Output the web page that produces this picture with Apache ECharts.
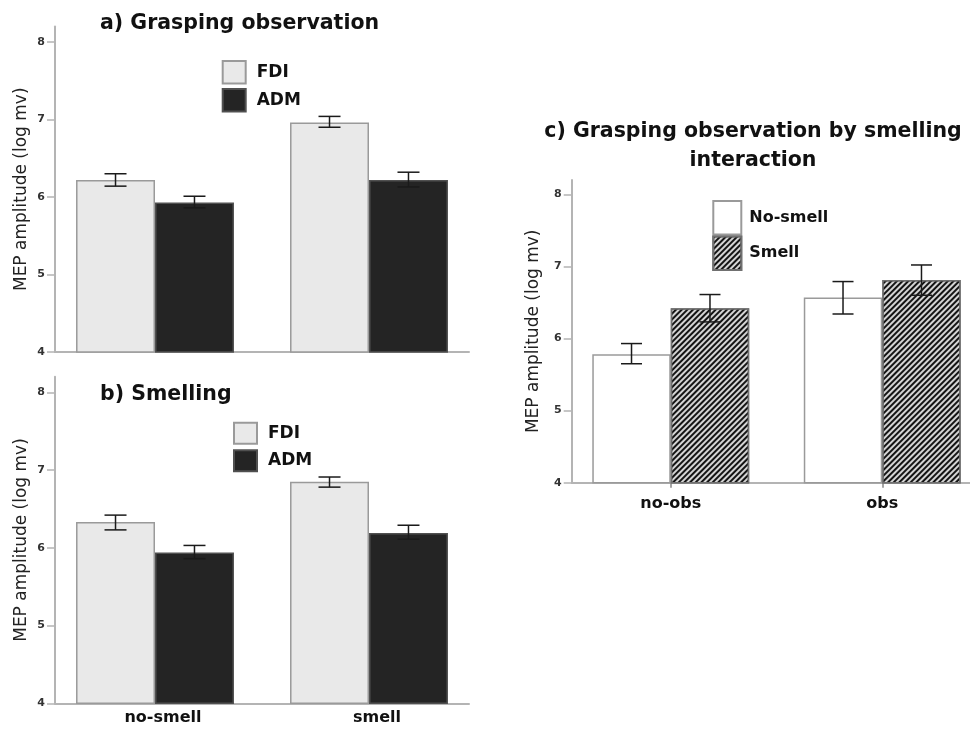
<!DOCTYPE html>
<html>
<head>
<meta charset="utf-8">
<script src="https://cdn.jsdelivr.net/npm/echarts@6/dist/echarts.min.js"></script>
<style>html,body{margin:0;padding:0;background:#fff;}#chart{width:970px;height:734px;}</style>
</head>
<body>
<div id="chart"></div>
<script>
// ---------- data ----------
const catsAB = ['no-smell', 'smell'];
const catsC = ['no-obs', 'obs'];
const yTicks = [4, 5, 6, 7, 8];

const aFDI = [6.22, 6.96];
const aFDIlo = [6.14, 6.90];
const aFDIhi = [6.30, 7.04];
const aADM = [5.93, 6.22];
const aADMlo = [5.86, 6.13];
const aADMhi = [6.01, 6.32];

const bFDI = [6.33, 6.85];
const bFDIlo = [6.23, 6.78];
const bFDIhi = [6.42, 6.91];
const bADM = [5.94, 6.19];
const bADMlo = [5.86, 6.11];
const bADMhi = [6.03, 6.29];

const cNoSmell = [5.78, 6.57];
const cNoSmellLo = [5.65, 6.34];
const cNoSmellHi = [5.93, 6.79];
const cSmell = [6.42, 6.81];
const cSmellLo = [6.23, 6.60];
const cSmellHi = [6.61, 7.02];

// ---------- styles ----------
const FONT = 'DejaVu Sans';
const gapAB = 0.262;
const gapC = 0.258;
const axisColor = '#b4b4b4';

const fdiStyle = { color: '#e9e9e9', borderColor: '#9a9a9a', borderWidth: 1.5 };
const admStyle = { color: '#242424', borderColor: '#505050', borderWidth: 1.5 };
const noSmellStyle = { color: '#ffffff', borderColor: '#9a9a9a', borderWidth: 1.5 };
const smellStyle = {
  color: '#d4d4d4', borderColor: '#707070', borderWidth: 1.5,
  decal: { symbol: 'rect', symbolSize: 1, color: '#141414', dashArrayX: [1, 0], dashArrayY: [2, 2], rotation: -Math.PI / 4 }
};

function errData(lo, hi) { return lo.map((v, i) => [i, v, hi[i]]); }

function errRender(side, gap, cap) {
  return function (params, api) {
    const i = api.value(0);
    const pLo = api.coord([i, api.value(1)]);
    const pHi = api.coord([i, api.value(2)]);
    const band = api.size([1, 0])[0];
    const bw = band * (1 - gap) / 2;
    const x = pLo[0] + side * bw / 2;
    const h = cap / 2;
    const st = { stroke: '#1a1a1a', lineWidth: 1.5, fill: null };
    return {
      type: 'group', children: [
        { type: 'line', shape: { x1: x, y1: pHi[1], x2: x, y2: pLo[1] }, style: st },
        { type: 'line', shape: { x1: x - h, y1: pHi[1], x2: x + h, y2: pHi[1] }, style: st },
        { type: 'line', shape: { x1: x - h, y1: pLo[1], x2: x + h, y2: pLo[1] }, style: st }
      ]
    };
  };
}

// grid geometry per panel
const P = {
  a: { top: 26.5, height: 325.5 },
  b: { top: 376.7, height: 326.6 },
  c: { top: 179.9, height: 302.8 }
};

function barGrid(p, left, width) {
  return { left: left, width: width, top: p.top, height: p.height, containLabel: false, outerBoundsMode: 'none' };
}

function valueYAxis(gridIndex, showAll, nameGap) {
  if (!showAll) {
    return { type: 'value', gridIndex: gridIndex, min: 4, max: 8.2, interval: 1, show: false, splitLine: { show: false } };
  }
  return {
    type: 'value', gridIndex: gridIndex, min: 4, max: 8.2, interval: 1,
    axisLine: { show: true, lineStyle: { color: axisColor, width: 2 } },
    axisTick: { show: true, length: 8, customValues: yTicks, lineStyle: { color: axisColor, width: 1.5 } },
    axisLabel: {
      show: true, customValues: yTicks, margin: 10,
      fontFamily: FONT, fontWeight: 'bold', fontSize: 11, color: '#333',
      formatter: function (v) { return Number.isInteger(v) ? String(v) : ''; }
    },
    splitLine: { show: false },
    name: 'MEP amplitude (log mv)', nameLocation: 'middle', nameGap: nameGap,
    nameTextStyle: { fontFamily: FONT, fontSize: 17, color: '#222' }
  };
}

function lineXAxis(gridIndex) {
  return {
    type: 'value', gridIndex: gridIndex, min: 0, max: 1,
    axisLine: { show: true, lineStyle: { color: axisColor, width: 2 } },
    axisTick: { show: false }, axisLabel: { show: false }, splitLine: { show: false }
  };
}

const option = {
  backgroundColor: '#ffffff',
  animation: false,
  title: [
    { text: 'a) Grasping observation', left: 100, top: 12, padding: 0,
      textStyle: { fontFamily: FONT, fontWeight: 'bold', fontSize: 20.5, color: '#111', lineHeight: 24 } },
    { text: 'b) Smelling', left: 100, top: 383, padding: 0,
      textStyle: { fontFamily: FONT, fontWeight: 'bold', fontSize: 20.5, color: '#111', lineHeight: 24 } }
  ],
  graphic: [
    { type: 'text', x: 753, y: 117.5, z: 10,
      style: { text: 'c) Grasping observation by smelling\ninteraction',
        fontFamily: FONT, fontWeight: 'bold', fontSize: 20.5, fill: '#111',
        align: 'center', textAlign: 'center', verticalAlign: 'top', textVerticalAlign: 'top', lineHeight: 29 } }
  ],
  legend: [
    { data: ['FDI', 'ADM'], orient: 'vertical', left: 221.7, top: 60, padding: 0,
      itemWidth: 23, itemHeight: 22.5, itemGap: 3.5, selectedMode: false, icon: 'rect',
      textStyle: { fontFamily: FONT, fontWeight: 'bold', fontSize: 17, color: '#111', padding: [0, 0, 0, 6] } },
    { data: ['FDI', 'ADM'], orient: 'vertical', left: 233, top: 421.7, padding: 0,
      itemWidth: 23, itemHeight: 21, itemGap: 4.5, selectedMode: false, icon: 'rect',
      textStyle: { fontFamily: FONT, fontWeight: 'bold', fontSize: 17, color: '#111', padding: [0, 0, 0, 6] } },
    { data: ['No-smell', 'Smell'], orient: 'vertical', left: 712.3, top: 200, padding: 0,
      itemWidth: 28, itemHeight: 33.5, itemGap: 0, selectedMode: false, icon: 'rect',
      textStyle: { fontFamily: FONT, fontWeight: 'bold', fontSize: 16, color: '#111', padding: [0, 0, 0, 3] } }
  ],
  grid: [
    barGrid(P.a, 48, 428),
    barGrid(P.a, 55, 414),
    barGrid(P.b, 48, 428),
    barGrid(P.b, 55, 414),
    barGrid(P.c, 565, 423),
    barGrid(P.c, 571.7, 400)
  ],
  xAxis: [
    { type: 'category', gridIndex: 0, data: catsAB, axisLine: { show: false }, axisTick: { show: false }, axisLabel: { show: false } },
    lineXAxis(1),
    { type: 'category', gridIndex: 2, data: catsAB, axisLine: { show: false }, axisTick: { show: false },
      axisLabel: { show: true, margin: 7, fontFamily: FONT, fontWeight: 'bold', fontSize: 16, color: '#111', padding: [0, 0, 0, 16] } },
    lineXAxis(3),
    { type: 'category', gridIndex: 4, data: catsC, axisLine: { show: false },
      axisTick: { show: true, alignWithLabel: true, length: 5, lineStyle: { color: '#888', width: 1.5 } },
      axisLabel: { show: true, margin: 13, fontFamily: FONT, fontWeight: 'bold', fontSize: 16, color: '#111' } },
    lineXAxis(5)
  ],
  yAxis: [
    valueYAxis(0, false),
    valueYAxis(1, true, 25),
    valueYAxis(2, false),
    valueYAxis(3, true, 25),
    valueYAxis(4, false),
    valueYAxis(5, true, 30)
  ],
  series: [
    // panel a
    { type: 'bar', name: 'FDI', xAxisIndex: 0, yAxisIndex: 0, data: aFDI, barGap: '0%', barCategoryGap: (gapAB * 100) + '%', itemStyle: fdiStyle },
    { type: 'bar', name: 'ADM', xAxisIndex: 0, yAxisIndex: 0, data: aADM, barGap: '0%', barCategoryGap: (gapAB * 100) + '%', itemStyle: admStyle },
    { type: 'custom', xAxisIndex: 0, yAxisIndex: 0, z: 5, encode: { x: 0, y: [1, 2] }, data: errData(aFDIlo, aFDIhi), renderItem: errRender(-1, gapAB, 22) },
    { type: 'custom', xAxisIndex: 0, yAxisIndex: 0, z: 5, encode: { x: 0, y: [1, 2] }, data: errData(aADMlo, aADMhi), renderItem: errRender(1, gapAB, 22) },
    // panel b
    { type: 'bar', name: 'FDI', xAxisIndex: 2, yAxisIndex: 2, data: bFDI, barGap: '0%', barCategoryGap: (gapAB * 100) + '%', itemStyle: fdiStyle },
    { type: 'bar', name: 'ADM', xAxisIndex: 2, yAxisIndex: 2, data: bADM, barGap: '0%', barCategoryGap: (gapAB * 100) + '%', itemStyle: admStyle },
    { type: 'custom', xAxisIndex: 2, yAxisIndex: 2, z: 5, encode: { x: 0, y: [1, 2] }, data: errData(bFDIlo, bFDIhi), renderItem: errRender(-1, gapAB, 22) },
    { type: 'custom', xAxisIndex: 2, yAxisIndex: 2, z: 5, encode: { x: 0, y: [1, 2] }, data: errData(bADMlo, bADMhi), renderItem: errRender(1, gapAB, 22) },
    // panel c
    { type: 'bar', name: 'No-smell', xAxisIndex: 4, yAxisIndex: 4, data: cNoSmell, barGap: '0%', barCategoryGap: (gapC * 100) + '%', itemStyle: noSmellStyle },
    { type: 'bar', name: 'Smell', xAxisIndex: 4, yAxisIndex: 4, data: cSmell, barGap: '0%', barCategoryGap: (gapC * 100) + '%', itemStyle: smellStyle },
    { type: 'custom', xAxisIndex: 4, yAxisIndex: 4, z: 5, encode: { x: 0, y: [1, 2] }, data: errData(cNoSmellLo, cNoSmellHi), renderItem: errRender(-1, gapC, 21) },
    { type: 'custom', xAxisIndex: 4, yAxisIndex: 4, z: 5, encode: { x: 0, y: [1, 2] }, data: errData(cSmellLo, cSmellHi), renderItem: errRender(1, gapC, 21) }
  ]
};

const chart = echarts.init(document.getElementById('chart'), null, { renderer: 'canvas' });
chart.setOption(option);
</script>
</body>
</html>
